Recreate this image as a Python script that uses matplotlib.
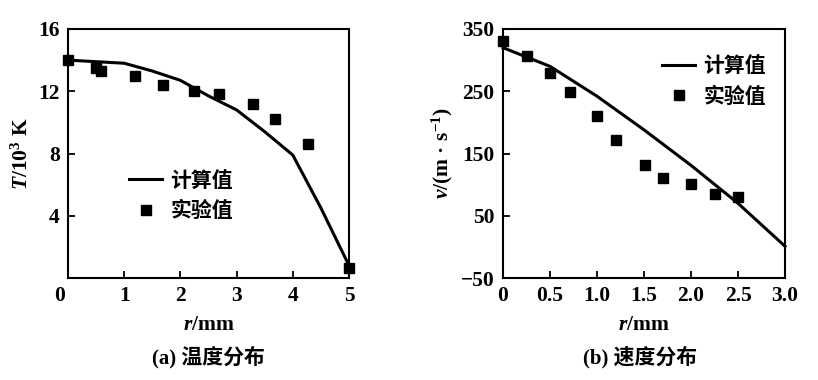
import matplotlib
matplotlib.use('Agg')
import matplotlib.pyplot as plt
from matplotlib.transforms import offset_copy

plt.rcParams['font.family'] = ['Liberation Serif', 'Noto Sans CJK SC']
plt.rcParams['font.weight'] = 'bold'
plt.rcParams['axes.labelweight'] = 'bold'
plt.rcParams['mathtext.fontset'] = 'custom'
plt.rcParams['mathtext.rm'] = 'Liberation Serif:bold'
plt.rcParams['mathtext.it'] = 'Liberation Serif:italic:bold'
plt.rcParams['mathtext.bf'] = 'Liberation Serif:bold'
plt.rcParams['axes.unicode_minus'] = True

# (a) temperature
r_calc_a = [0, 0.5, 1, 1.5, 2, 2.5, 3, 3.5, 4, 4.5, 5]
t_calc = [14.0, 13.9, 13.8, 13.3, 12.7, 11.7, 10.8, 9.4, 7.9, 4.5, 0.8]
r_exp_a = [0, 0.5, 0.59, 1.2, 1.69, 2.24, 2.69, 3.29, 3.68, 4.27, 5.0]
t_exp = [14.0, 13.5, 13.3, 13.0, 12.4, 12.0, 11.8, 11.2, 10.2, 8.6, 0.65]

# (b) velocity
r_calc_b = [0, 0.5, 1.0, 1.5, 2.0, 2.5, 3.0]
v_calc = [320, 290, 242, 188, 131, 70, 1]
r_exp_b = [0, 0.25, 0.5, 0.71, 1.0, 1.2, 1.51, 1.7, 2.0, 2.25, 2.5]
v_exp = [330, 307, 280, 248, 211, 171, 131, 110, 101, 85, 80]

cjk = ['Noto Sans CJK SC', 'DejaVu Sans']
cap_font = ['Liberation Serif', 'Noto Sans CJK SC']

fig = plt.figure(figsize=(8.18, 3.8), dpi=100)
ax1 = fig.add_axes([68/818, 1-278/380, 281/818, 249/380])
ax2 = fig.add_axes([503/818, 1-278/380, 282/818, 249/380])

for ax in (ax1, ax2):
    for s in ax.spines.values():
        s.set_linewidth(1.5)
    ax.tick_params(direction='in', length=5, width=1.3, labelsize=15.5, pad=6)

ax1.plot(r_calc_a, t_calc, color='black', lw=2.2, label='计算值', clip_on=False)
ax1.plot(r_exp_a, t_exp, 's', color='black', ms=7, label='实验值', clip_on=False)
ax1.set_xlim(0, 5)
ax1.set_ylim(0, 16)
ax1.set_xticks([0, 1, 2, 3, 4, 5])
ax1.set_yticks([4, 8, 12, 16])
ax1.set_xlabel('$r$/mm', fontsize=15.5, labelpad=6)
ax1.set_ylabel('$T$/10$^3$ K', fontsize=15.5, labelpad=4)
# origin label sits a bit left of the corner
lab0 = ax1.get_xticklabels()[0]
lab0.set_transform(offset_copy(lab0.get_transform(), fig=fig, x=-8, units='dots'))
ax1.legend(loc='upper left', bbox_to_anchor=(0.15, 0.51), frameon=False,
           prop={'family': cjk, 'size': 15, 'weight': 'bold'}, handlelength=1.6,
           handletextpad=0.4, labelspacing=0.45)
fig.text(208/818, 1-357/380, '(a) 温度分布', ha='center', va='center',
         fontsize=15, family=cap_font, weight='bold')

ax2.plot(r_calc_b, v_calc, color='black', lw=2.2, label='计算值', clip_on=False)
ax2.plot(r_exp_b, v_exp, 's', color='black', ms=7, label='实验值', clip_on=False)
ax2.set_xlim(0, 3.0)
ax2.set_ylim(-50, 350)
ax2.set_xticks([0, 0.5, 1.0, 1.5, 2.0, 2.5, 3.0])
ax2.set_xticklabels(['0', '0.5', '1.0', '1.5', '2.0', '2.5', '3.0'])
ax2.set_yticks([-50, 50, 150, 250, 350])
ax2.set_xlabel('$r$/mm', fontsize=15.5, labelpad=6)
ax2.set_ylabel('$v$/(m · s$^{-1}$)', fontsize=15.5, labelpad=4)
ax2.legend(loc='upper right', bbox_to_anchor=(1.0, 0.97), frameon=False,
           prop={'family': cjk, 'size': 15, 'weight': 'bold'}, handlelength=1.6,
           handletextpad=0.4, labelspacing=0.45)
fig.text(640/818, 1-357/380, '(b) 速度分布', ha='center', va='center',
         fontsize=15, family=cap_font, weight='bold')

fig.savefig('out.png', dpi=100)
